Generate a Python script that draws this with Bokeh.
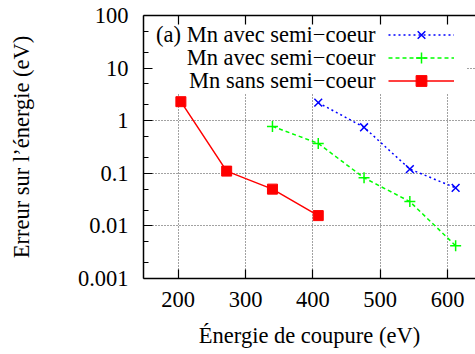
from bokeh.plotting import figure
from bokeh.models import (Range1d, FixedTicker, LinearAxis, Legend, LegendItem,
                          Label, BoxAnnotation)
from bokeh.core.properties import value
from bokeh.embed import file_html
from bokeh.resources import INLINE

# ---- data (cut-off energy in eV, energy error in eV) ----
cutoff_avec_a = [408, 476, 544, 612]
err_avec_a = [2.2, 0.75, 0.12, 0.053]

cutoff_avec_b = [340, 408, 476, 544, 612]
err_avec_b = [0.78, 0.37, 0.082, 0.029, 0.0042]

cutoff_sans = [204, 272, 340, 408]
err_sans = [2.3, 0.11, 0.05, 0.0157]

series_names = ["(a) Mn avec semi\u2212coeur", "Mn avec semi\u2212coeur", "Mn sans semi\u2212coeur"]

x_ticks = [200, 300, 400, 500, 600]
y_ticks = [0.001, 0.01, 0.1, 1, 10, 100]
y_tick_labels = ["0.001", "0.01", "0.1", "1", "10", "100"]
y_minor = [2e-3, 5e-3, 2e-2, 5e-2, 0.2, 0.5, 2, 5, 20, 50]

FONT = "Liberation Serif"
FS = "22.5px"

p = figure(width=475, height=354,
           x_range=Range1d(148.5, 641.5), y_range=Range1d(0.001, 100),
           y_axis_type="log", output_backend="svg", toolbar_location=None,
           min_border_left=143, min_border_right=0, min_border_top=15,
           min_border_bottom=76)
p.outline_line_color = None
p.background_fill_color = "white"
p.border_fill_color = "white"

# axes
xa = p.xaxis[0]
xa.ticker = FixedTicker(ticks=x_ticks)
ya = p.yaxis[0]
ya.ticker = FixedTicker(ticks=y_ticks, minor_ticks=y_minor)
ya.major_label_overrides = {t: l for t, l in zip(y_ticks, y_tick_labels)}

top = LinearAxis(ticker=FixedTicker(ticks=x_ticks))
top.major_label_overrides = {t: "" for t in x_ticks}
top.major_label_text_font_size = "0px"
top.major_label_standoff = 0
p.add_layout(top, "above")

for ax in (xa, ya, top):
    ax.axis_line_color = "black"
    ax.axis_line_width = 1.5
    ax.major_tick_line_color = "black"
    ax.major_tick_line_width = 1.2
    ax.major_tick_in = 9
    ax.major_tick_out = 0
    ax.minor_tick_in = 5
    ax.minor_tick_out = 0
    ax.minor_tick_line_color = None
for ax in (xa, ya):
    ax.major_label_text_font = FONT
    ax.major_label_text_font_size = FS
    ax.major_label_text_color = "black"
    ax.axis_label_text_font = FONT
    ax.axis_label_text_font_size = FS
    ax.axis_label_text_font_style = "normal"
    ax.axis_label_text_color = "black"
ya.minor_tick_line_color = "black"
ya.minor_tick_line_width = 1.2

xa.axis_label = "\u00c9nergie de coupure (eV)"
xa.major_label_standoff = 13
xa.axis_label_standoff = 13
ya.axis_label = "Erreur sur l\u2019\u00e9nergie (eV)"
ya.major_label_standoff = 15
ya.axis_label_standoff = 41

# grid
p.xgrid.ticker = FixedTicker(ticks=x_ticks)
p.ygrid.ticker = FixedTicker(ticks=y_ticks)
for g in (p.xgrid[0], p.ygrid[0]):
    g.grid_line_color = "#444444"
    g.grid_line_width = 1
    g.grid_line_dash = "1 2"

# opaque key area
key_box = BoxAnnotation(right=628, bottom=3.29, fill_color="white", fill_alpha=1,
                        line_color=None, level="underlay")
p.add_layout(key_box)

# series
lb = p.line(cutoff_avec_a, err_avec_a, line_color="#0000ff", line_width=1.5, line_dash="2 3")
sb = p.scatter(cutoff_avec_a, err_avec_a, marker="x", size=11, line_color="#0000ff", line_width=1.5)
lg = p.line(cutoff_avec_b, err_avec_b, line_color="#00ff00", line_width=1.5, line_dash="4 3")
sg = p.scatter(cutoff_avec_b, err_avec_b, marker="cross", size=11, line_color="#00ff00", line_width=1.5)
lr = p.line(cutoff_sans, err_sans, line_color="#ff0000", line_width=1.5)
sr = p.scatter(cutoff_sans, err_sans, marker="square", size=10, fill_color="#ff0000", line_color="#ff0000")

# key: text right-aligned, sample to its right (one legend per row)
row_text_y = [243.9, 220.6, 198.3]
row_key_y = [230.5, 207.0, 183.8]
for name, ty, ky, rends in zip(series_names, row_text_y, row_key_y,
                               [[lb, sb], [lg, sg], [lr, sr]]):
    p.add_layout(Label(x=232, y=ty, x_units="screen", y_units="screen", text=name,
                       text_align="right", text_baseline="middle",
                       text_font=FONT, text_font_size=FS, text_color="black"))
    lgd = Legend(items=[LegendItem(label=value(""), renderers=rends)],
                 location=(245, ky), glyph_width=66, glyph_height=27, spacing=0,
                 padding=0, margin=0, label_width=0, label_standoff=0, label_height=20,
                 label_text_font_size="1px", border_line_color=None,
                 background_fill_alpha=0)
    p.add_layout(lgd, "center")

open("out.html", "w").write(file_html(p, INLINE))
